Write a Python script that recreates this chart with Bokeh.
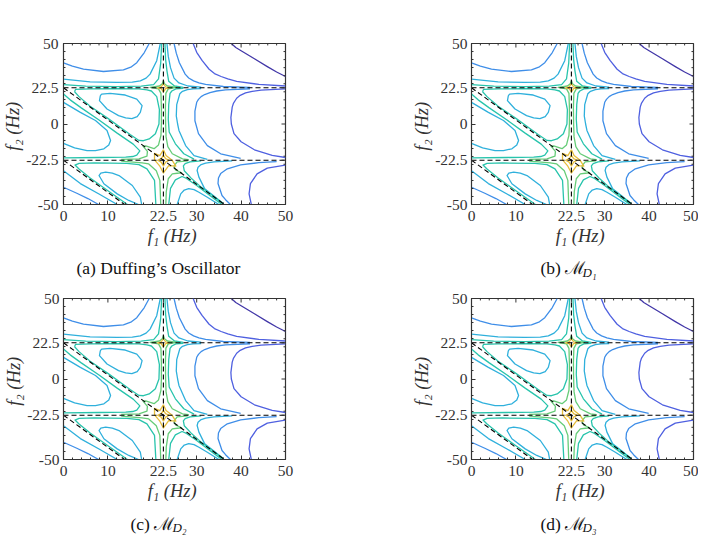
from bokeh.plotting import figure
from bokeh.models import FixedTicker, Label, ColumnDataSource
from bokeh.layouts import column, row
from bokeh.embed import file_html
from bokeh.resources import INLINE

# tick labels
f1_ticks = [0, 10, 22.5, 30, 40, 50]
f2_ticks = [-50, -22.5, 0, 22.5, 50]
f1_minor = [2, 4, 6, 8, 12, 14, 16, 18, 20, 24, 26, 28, 32, 34, 36, 38, 42, 44, 46, 48]
f2_minor = [-45, -40, -35, -30, -25, -20, -15, -10, -5, 5, 10, 15, 20, 25, 30, 35, 40, 45]

captions = ["(a) Duffing\u2019s Oscillator", "(b) \u2133", "(c) \u2133", "(d) \u2133"]
caption_subs = [None, "D\u2081", "D\u2082", "D\u2083"]

# resonance lines (f1, f2)
dashed_vertical = [(22.5, -50), (22.5, 50)]
dashed_upper = [(0, 22.5), (50, 22.5)]
dashed_lower = [(0, -22.5), (50, -22.5)]
dashed_diag_upper = [(0, 22.5), (22.5, -22.5), (36.25, -50)]
dashed_diag_lower = [(0, -22.5), (13.75, -50)]

# contours (f1, f2), one list per colour level
level_dark = [
    [(37.8, 50), (38.8, 47.5), (40, 45.5), (41.5, 43), (43, 40.5), (46, 35.5), (48, 32.3), (50, 29.5)],
]
level_indigo = [
    [(29.2, 50), (30, 44.5), (31.2, 39.5), (32.8, 34), (34, 31.3), (35.5, 29.5), (37, 28), (39, 26.5), (44, 24.6), (50, 23.6)],
    [(50, 21.8), (44.5, 21), (42.5, 20.3), (41, 19.3), (39.8, 17.8), (39, 16), (38.3, 13), (38, 10.5), (37.7, 4), (37.8, 0),
     (38.4, -6), (40, -11), (43, -16), (47, -19.5), (50, -20.8)],
    [(42.3, -50), (41.8, -43.4), (42.1, -37), (43.6, -31), (45.9, -27.4), (49.6, -25.7), (50, -25.6)],
]
level_blue = [
    [(0, 38), (2, 36), (4.5, 34.1), (9, 32.6), (13.5, 33.6), (15.3, 35.5), (16.5, 38.1), (18.2, 44.4), (19.3, 50)],
    [(24.9, 50), (25.4, 44), (26.1, 38), (27.4, 31), (28.2, 28.6), (29.3, 26.8), (30.5, 25.6), (32, 24.6), (36, 23.3), (42, 22.8)],
    [(42, 21.9), (36.5, 21.2), (34.5, 20.5), (33, 19.5), (31.8, 18.3), (31, 17), (30.4, 15.3), (30, 13.5), (29.6, 8), (29.6, 2),
     (30.4, -6), (32.4, -13.4), (35.4, -18.5), (39.9, -21.4)],
    [(37.6, -50), (36.5, -47), (35.7, -44.4), (34.8, -37), (34.9, -33.5), (35.4, -30.8), (36.9, -27.8), (39.9, -25.4), (44, -24), (48, -23.4)],
    [(0, -39.3), (3, -43), (5.5, -46.3), (7.9, -50)],
]
level_cyan = [
    [(0, 27.9), (6, 26.2), (12, 25.8), (15.5, 26), (17.3, 26.8), (18.6, 28.5), (19.5, 31), (21, 39.3), (21.8, 50)],
    [(23.3, 50), (23.6, 42), (24.1, 35), (24.9, 28.5), (26, 25.5), (28, 23.6), (31, 22.9)],
    [(31, 22), (29.2, 21.8), (27.9, 21.4), (26.8, 20.3), (26.2, 18.8), (25.5, 12), (25.4, 5), (25.7, 0), (26, -4), (27.5, -13.4), (29.4, -19.6), (32.4, -21.9)],
    [(38, -22.9), (33.9, -23.5), (32, -24.3), (31, -25.2), (30.3, -26.8), (30.1, -28.9), (30.5, -33), (31.8, -40.3), (33.8, -44.6), (36, -49.5)],
    [(8.3, 17.6), (8.1, 14.5), (9.8, 9.3), (12.4, 5.2), (14, 3.8), (15.4, 3.3), (16.6, 4.6), (17.3, 7.2), (17.7, 11.4), (16.5, 15.5),
     (13.9, 18), (10.5, 19), (8.6, 18.6), (8.3, 17.6)],
    [(0, 13.4), (3.8, 7.2), (7.2, 2.2), (9.8, -4), (10.6, -10.2), (10.2, -13), (9.1, -15.4), (7.2, -16.5), (5.3, -16.5), (2.5, -14.8), (0, -12)],
    [(17.6, -50), (17.3, -45.4), (15.5, -38.2), (12.5, -32), (11, -30.5), (9.5, -29.9), (8.4, -30.5), (8, -32), (9.1, -37.1), (12.1, -43.4), (14.7, -47.5), (16.9, -50)],
    [(0, -29), (3.8, -37), (8, -43.5), (12.1, -50)],
    [(25.6, -50), (26.4, -43.4), (27.2, -41), (28.2, -40.2), (29.4, -40.8), (30.5, -42.4), (32.4, -45.5), (35, -50)],
]
level_teal = [
    [(0, 24.5), (5, 23.5), (12, 23.2), (17.5, 23.5), (20.3, 24.5), (21.4, 28), (21.9, 38), (22.1, 50)],
    [(22.85, 50), (23, 40), (23.3, 33), (23.7, 26.5), (25, 23.6), (27, 22.8)],
    [(27, 22.2), (25.3, 21.8), (24.4, 20.5), (24, 19), (23.7, 12), (23.6, 3), (23.8, -5), (25.2, -12.3), (27.1, -18.5), (29.4, -21.8)],
    [(2.5, 20), (2.7, 21.5), (6, 21.8), (12, 21.9), (17, 21.8), (18.8, 21.2), (19.8, 20.5), (21, 17), (21.6, 9), (21.5, 0), (20.7, -6),
     (19.3, -9.3), (18, -10.4), (17, -10.2), (15, -6.5), (14, -4.5), (10, 3.5), (6, 11), (3.5, 17), (2.5, 20)],
    [(0, -21), (8, -20.8), (14, -20.6), (15.6, -20.2), (16.5, -19.3), (17.2, -16.7), (15.7, -12.5), (12, -5.5), (8, 2.5), (4, 10), (1.5, 15), (0, 18.6)],
    [(14.4, -50), (10, -41.5), (6, -33.5), (3.5, -28), (2.6, -25.5), (3.5, -24.4), (7, -24.2), (14.3, -24.5), (17, -25.2), (18.8, -27.9), (20.5, -35), (20.8, -50)],
    [(31, -22.9), (28.5, -23.5), (27.4, -24.6), (27, -26), (27.2, -29), (28.7, -33.5), (31, -39.2), (33.5, -44.2), (36.1, -49.6)],
    [(23.7, -50), (24.1, -40), (25.2, -34.7), (26.7, -32.6), (27.7, -33.8), (30, -38.2), (32, -42.4), (34, -46.5), (35.7, -50)],
]
level_green = [
    [(22.5, 27), (22.75, 25), (23.4, 23.6), (25.5, 22.8), (23.6, 21.8), (23.05, 19), (22.95, 10), (23, 0), (23.1, -8), (23.5, -14),
     (24.5, -18.5), (26.8, -21.7), (28.2, -22.1)],
    [(22.5, 27), (22.25, 25), (21.6, 23.6), (19.5, 22.8), (21.4, 21.8), (21.95, 19), (22.05, 10), (22.05, 0), (21.95, -7), (21.4, -13),
     (20.4, -15.3), (18.5, -13.6), (17.9, -13.7), (18.9, -17), (18.8, -20), (17, -21.6), (13, -22)],
    [(13, -23), (17.7, -24.2), (19.2, -24.8), (20.9, -29), (21.7, -35), (21.9, -50)],
    [(28, -22.9), (25.6, -23.5), (24.9, -26), (25.2, -28.5), (26.6, -30.3), (25.6, -30.6), (24.5, -31), (23.6, -34), (23.15, -42), (23.05, -50)],
]
level_yellow = [
    [(22.5, -16), (23.1, -19.6), (24.4, -22.3), (25.3, -26.2), (23.7, -25.8), (22.5, -30.4), (21.7, -26.2), (20.5, -22.3), (20.5, -18.2), (21.7, -19.6), (22.5, -16)],
    [(22.5, -19.5), (23, -21.5), (23.8, -22.5), (23, -23.7), (22.5, -26), (22, -23.7), (21.2, -22.5), (22, -21.5), (22.5, -19.5)],
    [(22.5, 25), (23, 23), (23.8, 22.5), (23, 22), (22.5, 20), (22, 22), (21.2, 22.5), (22, 23), (22.5, 25)],
]
level_colors = {
    "#4338a8": level_dark,
    "#4f60e0": level_indigo,
    "#3f8ee8": level_blue,
    "#2fb0dc": level_cyan,
    "#28c4ac": level_teal,
    "#66cc78": level_green,
    "#e6bd3c": level_yellow,
}
dashed_lines = [dashed_vertical, dashed_upper, dashed_lower, dashed_diag_upper, dashed_diag_lower]

SERIF = "Liberation Serif"
INK = "#333333"


def panel(left, right, top, bottom, standoff):
    p = figure(width=left + 222 + right, height=top + 161 + bottom,
               x_range=(0, 50), y_range=(-50, 50),
               output_backend="svg", toolbar_location=None,
               min_border_left=left, min_border_right=right,
               min_border_top=top, min_border_bottom=bottom,
               x_axis_label="f\u2081  (Hz)", y_axis_label="f\u2082  (Hz)")
    p.grid.visible = False
    p.outline_line_color = INK
    p.outline_line_width = 1.2
    p.background_fill_color = "white"

    for color, curves in level_colors.items():
        src = ColumnDataSource(dict(x=[[q[0] for q in c] for c in curves],
                                    y=[[q[1] for q in c] for c in curves]))
        p.multi_line("x", "y", source=src, line_color=color, line_width=1.3, line_join="round")
    src = ColumnDataSource(dict(x=[[q[0] for q in c] for c in dashed_lines],
                                y=[[q[1] for q in c] for c in dashed_lines]))
    dash = p.multi_line("x", "y", source=src, line_color="black", line_width=1.1)
    dash.glyph.line_dash = [5, 3]

    # ticks on the top and right edges of the box
    p.segment(x0=f1_ticks, y0=[50] * len(f1_ticks), x1=f1_ticks, y1=[47.5] * len(f1_ticks), line_color=INK, line_width=1)
    p.segment(x0=f1_minor, y0=[50] * len(f1_minor), x1=f1_minor, y1=[48.8] * len(f1_minor), line_color=INK, line_width=1)
    p.segment(x0=[50] * len(f2_ticks), y0=f2_ticks, x1=[49.1] * len(f2_ticks), y1=f2_ticks, line_color=INK, line_width=1)
    p.segment(x0=[50] * len(f2_minor), y0=f2_minor, x1=[49.55] * len(f2_minor), y1=f2_minor, line_color=INK, line_width=1)

    p.below[0].ticker = FixedTicker(ticks=f1_ticks, minor_ticks=f1_minor)
    p.left[0].ticker = FixedTicker(ticks=f2_ticks, minor_ticks=f2_minor)
    for ax in [p.below[0], p.left[0]]:
        ax.major_tick_in = 4
        ax.major_tick_out = 0
        ax.minor_tick_in = 2
        ax.minor_tick_out = 0
        ax.major_tick_line_color = INK
        ax.minor_tick_line_color = INK
        ax.axis_line_color = INK
        ax.major_label_text_font = SERIF
        ax.major_label_text_font_size = "15.5px"
        ax.major_label_text_color = INK
        ax.axis_label_text_font = SERIF
        ax.axis_label_text_font_style = "italic"
        ax.axis_label_text_font_size = "18.5px"
        ax.axis_label_text_color = INK
    p.below[0].major_label_standoff = 6
    p.below[0].axis_label_standoff = 2
    p.left[0].major_label_standoff = standoff
    p.left[0].axis_label_standoff = 0
    p.left[0].major_label_overrides = {-50: "-50", -22.5: "-22.5", 0: "0", 22.5: "22.5", 50: "50"}
    return p


def caption_strip(height, items):
    # items: (caption index, left edge in px)
    s = figure(width=698, height=height, x_range=(0, 698), y_range=(0, height),
               output_backend="svg", toolbar_location=None,
               min_border_left=0, min_border_right=0, min_border_top=0, min_border_bottom=0)
    s.axis.visible = False
    s.grid.visible = False
    s.outline_line_color = None
    for index, x in items:
        s.add_layout(Label(x=x, y=height / 2 + 3, text=captions[index], text_font=SERIF,
                           text_font_size="17.5px", text_color="#111111",
                           text_align="left", text_baseline="middle"))
        if caption_subs[index]:
            s.add_layout(Label(x=x + 42, y=height / 2 - 1, text=caption_subs[index], text_font=SERIF,
                               text_font_style="italic", text_font_size="13px", text_color="#111111",
                               text_align="left", text_baseline="middle"))
    return s


a = panel(63, 45, 43, 54, 5)
b = panel(141, 5, 43, 54, 4)
c = panel(63, 45, 15, 56, 4)
d = panel(141, 5, 15, 56, 4)
strip_top = caption_strip(25, [(0, 76), (1, 540)])
strip_bottom = caption_strip(22, [(2, 130), (3, 540)])
layout = column(row(a, b, spacing=0), strip_top, row(c, d, spacing=0), strip_bottom, spacing=0)
open("out.html", "w").write(file_html(layout, INLINE))
